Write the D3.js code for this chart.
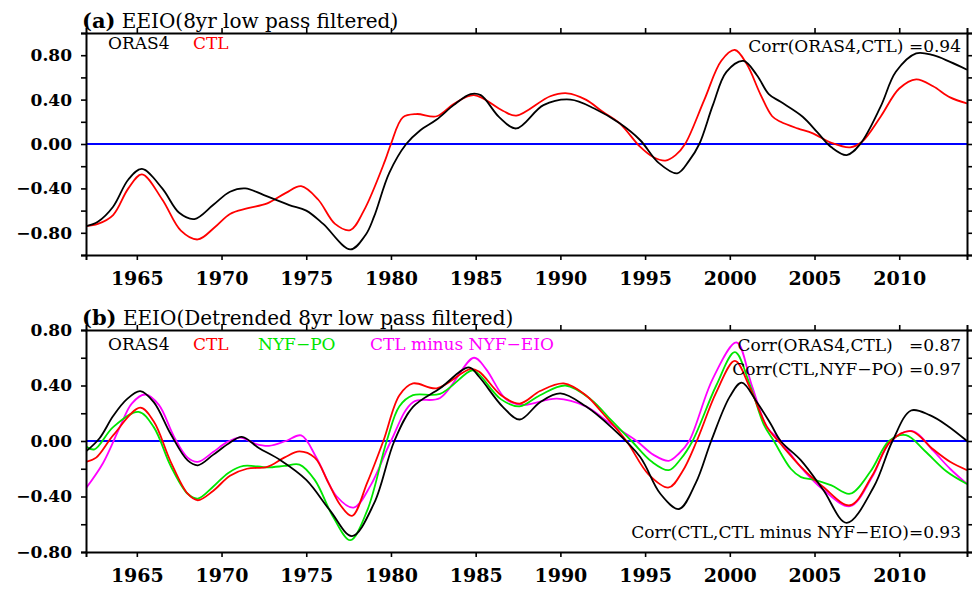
<!DOCTYPE html>
<html>
<head>
<meta charset="utf-8">
<script src="https://cdn.jsdelivr.net/npm/d3@7"></script>
<style>
  body { margin: 0; background: #fff; }
  text { font-family: "DejaVu Serif", "Liberation Serif", serif; white-space: pre; }
</style>
</head>
<body>
<div id="chart"></div>
<script>
// year ticks shared by both panels
const yearTicks = [1965, 1970, 1975, 1980, 1985, 1990, 1995, 2000, 2005, 2010];

// (a) EEIO 8yr low pass filtered  [year, value]
const oras4A = [
  [1962.0, -0.74], [1962.7, -0.70], [1963.6, -0.565], [1964.5, -0.32], [1965.3, -0.225],
  [1966.5, -0.40], [1967.5, -0.62], [1968.4, -0.676], [1969.5, -0.55], [1970.5, -0.43],
  [1971.4, -0.40], [1972.5, -0.46], [1974.0, -0.55], [1975.0, -0.60], [1976.0, -0.72],
  [1977.6, -0.95], [1978.5, -0.82], [1979.0, -0.655], [1979.9, -0.26], [1980.9, 0.0],
  [1981.7, 0.12], [1982.7, 0.22], [1983.7, 0.35], [1984.7, 0.45], [1985.3, 0.44],
  [1986.4, 0.24], [1987.4, 0.14], [1989.0, 0.35], [1990.6, 0.40], [1992.0, 0.32],
  [1993.5, 0.186], [1994.7, 0.036], [1995.8, -0.17], [1996.9, -0.264], [1997.6, -0.15],
  [1998.2, 0.0], [1999.0, 0.35], [1999.8, 0.65], [2000.8, 0.748], [2001.6, 0.62],
  [2002.3, 0.45], [2003.0, 0.38], [2004.3, 0.246], [2005.2, 0.10], [2006.0, -0.03],
  [2006.9, -0.10], [2007.7, 0.0], [2008.9, 0.336], [2009.8, 0.65], [2011.0, 0.817],
  [2012.0, 0.80], [2013.0, 0.74], [2014.0, 0.67]
];
const ctlA = [
  [1962.0, -0.74], [1962.7, -0.72], [1963.6, -0.64], [1964.5, -0.40], [1965.3, -0.273],
  [1966.5, -0.50], [1967.6, -0.78], [1968.6, -0.86], [1969.6, -0.75], [1970.5, -0.63],
  [1971.5, -0.58], [1972.7, -0.535], [1973.8, -0.44], [1974.7, -0.38], [1975.7, -0.50],
  [1976.7, -0.72], [1977.6, -0.775], [1978.4, -0.60], [1979.65, -0.15], [1980.0, 0.0],
  [1980.7, 0.24], [1981.5, 0.27], [1982.7, 0.25], [1983.7, 0.36], [1984.9, 0.44],
  [1986.6, 0.30], [1987.4, 0.255], [1989.4, 0.43], [1990.4, 0.457], [1991.5, 0.40],
  [1992.5, 0.29], [1993.5, 0.186], [1994.7, -0.024], [1995.5, -0.12], [1996.2, -0.15],
  [1996.8, -0.10], [1997.36, 0.0], [1998.5, 0.40], [1999.5, 0.75], [2000.3, 0.847],
  [2001.0, 0.72], [2001.8, 0.45], [2002.5, 0.25], [2003.0, 0.20], [2004.0, 0.14],
  [2004.9, 0.096], [2006.0, 0.01], [2007.1, -0.03], [2007.8, 0.02], [2008.9, 0.246],
  [2010.0, 0.50], [2011.0, 0.583], [2012.0, 0.52], [2013.0, 0.42], [2014.0, 0.366]
];

// (b) EEIO detrended 8yr low pass filtered
const oras4B = [
  [1962.0, -0.075], [1962.8, 0.02], [1963.6, 0.18], [1964.4, 0.30], [1965.2, 0.36],
  [1966.0, 0.28], [1967.0, 0.05], [1968.0, -0.14], [1968.6, -0.175], [1969.5, -0.10],
  [1970.4, -0.02], [1971.2, 0.03], [1972.2, -0.05], [1973.5, -0.14], [1975.0, -0.28],
  [1976.4, -0.50], [1977.7, -0.685], [1979.0, -0.45], [1980.2, 0.0], [1981.3, 0.246],
  [1982.9, 0.38], [1984.6, 0.53], [1985.2, 0.463], [1986.6, 0.246], [1987.6, 0.155],
  [1988.8, 0.28], [1990.0, 0.343], [1991.5, 0.25], [1993.0, 0.10], [1994.7, -0.114],
  [1995.9, -0.38], [1997.0, -0.49], [1998.0, -0.30], [1998.9, 0.0], [2000.0, 0.32],
  [2000.7, 0.42], [2001.6, 0.28], [2002.4, 0.126], [2003.0, 0.0], [2004.2, -0.14],
  [2005.5, -0.35], [2006.9, -0.59], [2008.5, -0.33], [2009.6, 0.0], [2010.7, 0.22],
  [2011.8, 0.186], [2012.8, 0.114], [2014.0, 0.0]
];
const ctlB = [
  [1962.0, -0.15], [1962.6, -0.12], [1963.6, 0.04], [1965.2, 0.24], [1966.0, 0.14],
  [1967.0, -0.15], [1968.0, -0.38], [1968.6, -0.427], [1969.5, -0.36], [1970.5, -0.25],
  [1971.5, -0.20], [1972.7, -0.186], [1973.7, -0.12], [1974.6, -0.075], [1975.5, -0.12],
  [1976.3, -0.30], [1977.0, -0.46], [1977.7, -0.54], [1978.6, -0.30], [1979.55, 0.0],
  [1980.5, 0.33], [1981.3, 0.415], [1982.7, 0.38], [1984.7, 0.52], [1985.2, 0.50],
  [1986.5, 0.33], [1987.6, 0.27], [1988.8, 0.36], [1990.2, 0.415], [1991.5, 0.33],
  [1992.5, 0.20], [1993.9, 0.0], [1995.2, -0.24], [1996.4, -0.335], [1997.2, -0.22],
  [1998.05, 0.0], [1999.2, 0.35], [2000.3, 0.578], [2001.2, 0.38], [2002.2, 0.10],
  [2003.0, -0.02], [2004.2, -0.186], [2005.5, -0.33], [2007.1, -0.463], [2008.4, -0.25],
  [2009.5, 0.0], [2010.7, 0.071], [2012.0, -0.06], [2013.0, -0.15], [2014.0, -0.21]
];
const nyfPoB = [
  [1962.0, -0.04], [1962.5, -0.06], [1963.6, 0.10], [1965.1, 0.21], [1966.0, 0.10],
  [1967.0, -0.18], [1968.0, -0.38], [1968.6, -0.415], [1969.5, -0.33], [1970.4, -0.23],
  [1971.3, -0.18], [1972.7, -0.19], [1973.7, -0.18], [1974.6, -0.17], [1975.5, -0.28],
  [1976.6, -0.55], [1977.6, -0.715], [1978.6, -0.50], [1979.75, 0.0], [1980.5, 0.25],
  [1981.3, 0.33], [1982.9, 0.34], [1984.8, 0.51], [1985.2, 0.48], [1986.5, 0.30],
  [1987.6, 0.25], [1988.8, 0.33], [1990.3, 0.40], [1991.8, 0.30], [1993.0, 0.15],
  [1994.2, 0.0], [1995.4, -0.15], [1996.4, -0.21], [1997.1, -0.13], [1997.8, 0.0],
  [1999.2, 0.40], [2000.3, 0.64], [2001.2, 0.40], [2002.0, 0.12], [2002.6, 0.0],
  [2003.6, -0.20], [2004.2, -0.26], [2005.0, -0.28], [2006.0, -0.32], [2007.1, -0.38],
  [2008.3, -0.22], [2009.4, 0.0], [2010.4, 0.042], [2011.5, -0.07], [2012.8, -0.22],
  [2014.0, -0.31]
];
const ctlMinusNyfEioB = [
  [1962.0, -0.34], [1963.0, -0.16], [1964.0, 0.10], [1964.7, 0.27], [1965.5, 0.335],
  [1966.3, 0.26], [1967.2, 0.03], [1968.0, -0.12], [1968.6, -0.15], [1969.5, -0.08],
  [1970.3, -0.01], [1971.1, 0.025], [1972.0, -0.02], [1972.8, -0.035], [1973.8, 0.0],
  [1974.7, 0.04], [1975.6, -0.12], [1976.8, -0.40], [1977.8, -0.48], [1978.8, -0.32],
  [1980.0, 0.0], [1981.3, 0.28], [1982.9, 0.31], [1984.9, 0.60], [1985.6, 0.52],
  [1986.8, 0.30], [1987.8, 0.26], [1989.8, 0.306], [1991.5, 0.25], [1993.0, 0.12],
  [1994.5, 0.0], [1995.5, -0.10], [1996.4, -0.143], [1997.0, -0.09], [1997.6, 0.0],
  [1999.0, 0.45], [2000.4, 0.71], [2001.3, 0.40], [2002.2, 0.10], [2003.0, 0.0],
  [2004.2, -0.19], [2005.5, -0.35], [2007.1, -0.47], [2008.4, -0.26], [2009.5, 0.0],
  [2010.8, 0.071], [2012.0, -0.07], [2013.0, -0.20], [2014.0, -0.31]
];

const legendA = ["ORAS4", "CTL"];
const legendB = ["ORAS4", "CTL", "NYF\u2212PO", "CTL minus NYF\u2212EIO"];
const corrA = ["Corr(ORAS4,CTL) =0.94"];
const corrB = ["Corr(ORAS4,CTL)   =0.87", "Corr(CTL,NYF\u2212PO) =0.97", "Corr(CTL,CTL minus NYF\u2212EIO)=0.93"];

(() => {
  const width = 975;
  const height = 589;
  const colors = ["#000000", "#ff0000", "#00e600", "#ff00ff"];

  const svg = d3
    .select("#chart")
    .append("svg")
    .attr("width", width)
    .attr("height", height);

  const x = d3.scaleLinear().domain([1962, 2014]).range([86, 967]);

  const line = (y) =>
    d3
      .line()
      .x((d) => x(d[0]))
      .y((d) => y(d[1]))
      .curve(d3.curveCatmullRom.alpha(0.5));

  function panel(opts) {
    const y = d3.scaleLinear().domain(opts.yDomain).range(opts.yRange);
    const top = opts.yRange[1];
    const bottom = opts.yRange[0];
    const g = svg.append("g");

    const clipId = "clip-" + opts.key;
    svg
      .append("clipPath")
      .attr("id", clipId)
      .append("rect")
      .attr("x", x.range()[0])
      .attr("y", top)
      .attr("width", x.range()[1] - x.range()[0])
      .attr("height", bottom - top);

    // zero line
    g.append("line")
      .attr("x1", x.range()[0])
      .attr("x2", x.range()[1])
      .attr("y1", y(0))
      .attr("y2", y(0))
      .attr("stroke", "#0000ff")
      .attr("stroke-width", 2);

    const curves = g.append("g").attr("clip-path", `url(#${clipId})`);
    // draw back-to-front so black ends on top like the original
    opts.series
      .map((s, i) => ({ s, i }))
      .reverse()
      .forEach(({ s, i }) => {
        curves
          .append("path")
          .attr("d", line(y)(s))
          .attr("fill", "none")
          .attr("stroke", colors[i])
          .attr("stroke-width", 1.8);
      });

    const yTicks = d3.range(opts.yDomain[0], opts.yDomain[1] + 0.001, 0.2).map((v) => +v.toFixed(2));
    const labelled = (v) => Math.abs(Math.round(v * 10) % 4) === 0 && Math.abs(v) <= 0.8;
    const fmt = d3.format(".2f");

    const bottomAxis = g
      .append("g")
      .attr("transform", `translate(0, ${bottom})`)
      .call(d3.axisBottom(x).tickValues(yearTicks).tickSize(5).tickPadding(12).tickFormat(d3.format("d")));
    bottomAxis
      .selectAll("text")
      .attr("font-size", "19px")
      .attr("font-weight", "bold")
      .attr("font-family", "DejaVu Serif");

    g.append("g")
      .attr("transform", `translate(0, ${top})`)
      .call(d3.axisTop(x).tickValues(yearTicks).tickSize(5).tickFormat(""));

    const leftAxis = g
      .append("g")
      .attr("transform", `translate(${x.range()[0]}, 0)`)
      .call(
        d3
          .axisLeft(y)
          .tickValues(yTicks)
          .tickSize(5)
          .tickPadding(9)
          .tickFormat((v) => (labelled(v) ? fmt(v) : ""))
      );
    leftAxis
      .selectAll("text")
      .attr("font-size", "17px")
      .attr("font-weight", "bold")
      .attr("font-family", "DejaVu Serif");

    g.append("g")
      .attr("transform", `translate(${x.range()[1]}, 0)`)
      .call(d3.axisRight(y).tickValues(yTicks).tickSize(5).tickFormat(""));

    g.selectAll(".domain").attr("stroke-width", 2).attr("stroke", "#000");
    g.selectAll(".tick line").attr("stroke-width", 1.6).attr("stroke", "#000");

    // title
    const title = g
      .append("text")
      .attr("x", 82)
      .attr("y", top - 5)
      .attr("font-size", "20px");
    title.append("tspan").attr("font-weight", "bold").attr("font-size", "21px").text(opts.tag);
    title.append("tspan").text(" " + opts.title);

    // legend
    g.selectAll(".legend")
      .data(opts.legend)
      .join("text")
      .attr("x", (d, i) => opts.legendX[i])
      .attr("y", opts.legendY)
      .attr("font-size", "17px")
      .attr("fill", (d, i) => colors[i])
      .text((d) => d);

    // correlations
    g.selectAll(".corr")
      .data(opts.corr)
      .join("text")
      .attr("x", 961)
      .attr("y", (d, i) => opts.corrY[i])
      .attr("text-anchor", "end")
      .attr("font-size", "17px")
      .text((d) => d);
  }

  panel({
    key: "a",
    yDomain: [-1, 1],
    yRange: [255, 33],
    series: [oras4A, ctlA],
    tag: "(a)",
    title: "EEIO(8yr low pass filtered)",
    legend: legendA,
    legendX: [108, 193],
    legendY: 49,
    corr: corrA,
    corrY: [52]
  });

  panel({
    key: "b",
    yDomain: [-0.8, 0.8],
    yRange: [552, 330],
    series: [oras4B, ctlB, nyfPoB, ctlMinusNyfEioB],
    tag: "(b)",
    title: "EEIO(Detrended 8yr low pass filtered)",
    legend: legendB,
    legendX: [108, 193, 258, 370],
    legendY: 350,
    corr: corrB,
    corrY: [351, 375, 538]
  });
})();
</script>
</body>
</html>
